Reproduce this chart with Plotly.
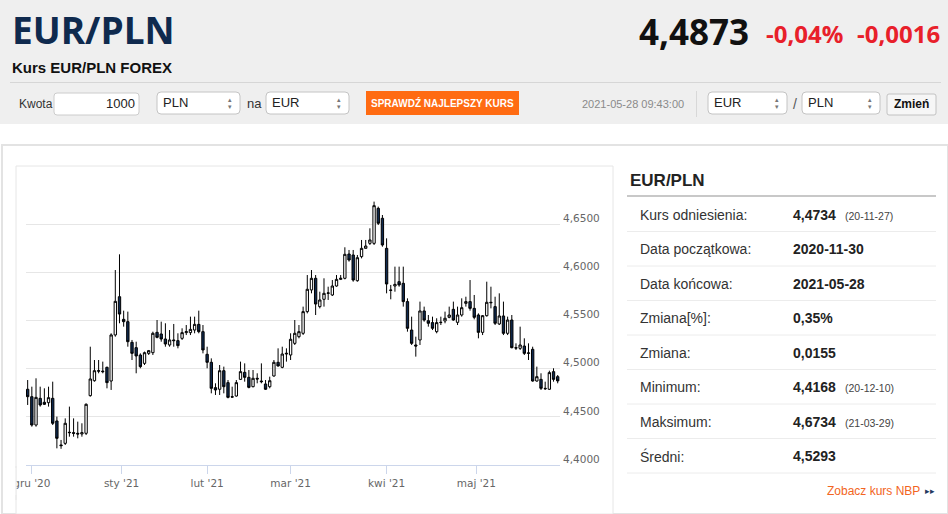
import plotly.graph_objects as go
import pandas as pd

W, H = 948, 514

# trading days (forex, no Dec 25 / Jan 1)
start_date = "2020-11-30"
end_date = "2021-05-28"
holidays = ["2020-12-25", "2021-01-01"]

opens = [4.4786, 4.4709, 4.4415, 4.4692, 4.4651, 4.4647, 4.4692, 4.4457, 4.4208, 4.4225,
         4.4340, 4.4336, 4.4329, 4.4322, 4.4329, 4.4720, 4.4875, 4.4979, 4.4975, 4.5014,
         4.4872, 4.5350, 4.5747, 4.5512, 4.5488, 4.5273, 4.5218, 4.5142, 4.5055, 4.5159,
         4.5166, 4.5377, 4.5360, 4.5308, 4.5246, 4.5298, 4.5291, 4.5315, 4.5374, 4.5374,
         4.5401, 4.5460, 4.5384, 4.5149, 4.5066, 4.4803, 4.4786, 4.4979, 4.4855, 4.4709,
         4.4716, 4.4889, 4.4962, 4.4910, 4.4813, 4.4900, 4.4872, 4.4841, 4.4813, 4.4924,
         4.5066, 4.5014, 4.5152, 4.5142, 4.5263, 4.5332, 4.5367, 4.5592, 4.5817, 4.5938,
         4.5644, 4.5720, 4.5782, 4.5765, 4.5858, 4.5927, 4.5938, 4.6190, 4.6180, 4.5913,
         4.6163, 4.6249, 4.6301, 4.6301, 4.6664, 4.6561, 4.6249, 4.5817, 4.5858, 4.5903,
         4.5886, 4.5696, 4.5401, 4.5246, 4.5298, 4.5599, 4.5498, 4.5478, 4.5384, 4.5478,
         4.5495, 4.5533, 4.5616, 4.5481, 4.5557, 4.5678, 4.5696, 4.5626, 4.5557, 4.5377,
         4.5550, 4.5689, 4.5644, 4.5464, 4.5547, 4.5367, 4.5505, 4.5218, 4.5211, 4.5235,
         4.5159, 4.5201, 4.4872, 4.4889, 4.4796, 4.4786, 4.4969, 4.4917]
highs = [4.4882, 4.4813, 4.4900, 4.4813, 4.4796, 4.4813, 4.4865, 4.4502, 4.4260, 4.4484,
         4.4606, 4.4484, 4.4450, 4.4433, 4.4640, 4.5228, 4.5090, 4.5090, 4.5073, 4.5021,
         4.5367, 4.6024, 4.6187, 4.5602, 4.5592, 4.5298, 4.5280, 4.5159, 4.5177, 4.5194,
         4.5384, 4.5505, 4.5488, 4.5471, 4.5401, 4.5464, 4.5367, 4.5419, 4.5453, 4.5540,
         4.5540, 4.5602, 4.5453, 4.5228, 4.5107, 4.4848, 4.5038, 4.5021, 4.4882, 4.4813,
         4.4882, 4.5073, 4.5055, 4.4986, 4.4986, 4.4952, 4.5055, 4.4882, 4.4917, 4.5090,
         4.5211, 4.5228, 4.5211, 4.5367, 4.5505, 4.5453, 4.5644, 4.5972, 4.6024, 4.5972,
         4.5799, 4.5938, 4.5851, 4.5920, 4.5972, 4.5972, 4.6260, 4.6232, 4.6232, 4.6180,
         4.6336, 4.6336, 4.6457, 4.6734, 4.6682, 4.6595, 4.6353, 4.5869, 4.6059, 4.6059,
         4.6059, 4.5730, 4.5540, 4.5332, 4.5696, 4.5644, 4.5557, 4.5540, 4.5523, 4.5540,
         4.5592, 4.5644, 4.5696, 4.5644, 4.5730, 4.5747, 4.5920, 4.5765, 4.5574, 4.5557,
         4.5903, 4.5851, 4.5747, 4.5782, 4.5696, 4.5540, 4.5557, 4.5263, 4.5436, 4.5315,
         4.5263, 4.5228, 4.5021, 4.4952, 4.4865, 4.4979, 4.5004, 4.4934]
lows = [4.4623, 4.4398, 4.4398, 4.4606, 4.4623, 4.4606, 4.4415, 4.4173, 4.4168, 4.4208,
        4.4294, 4.4294, 4.4277, 4.4294, 4.4311, 4.4709, 4.4865, 4.4952, 4.4952, 4.4796,
        4.4779, 4.5332, 4.5471, 4.5436, 4.5228, 4.5090, 4.4952, 4.5004, 4.5038, 4.5142,
        4.5142, 4.5315, 4.5280, 4.5228, 4.5228, 4.5228, 4.5211, 4.5298, 4.5349, 4.5349,
        4.5367, 4.5367, 4.5159, 4.5004, 4.4744, 4.4727, 4.4727, 4.4744, 4.4692, 4.4702,
        4.4709, 4.4882, 4.4865, 4.4796, 4.4806, 4.4848, 4.4848, 4.4779, 4.4796, 4.4917,
        4.5021, 4.5004, 4.5073, 4.5090, 4.5246, 4.5315, 4.5350, 4.5574, 4.5782, 4.5557,
        4.5626, 4.5644, 4.5713, 4.5754, 4.5851, 4.5920, 4.5927, 4.6111, 4.5903, 4.5903,
        4.6145, 4.6249, 4.6284, 4.6284, 4.6491, 4.6266, 4.5782, 4.5720, 4.5799, 4.5851,
        4.5644, 4.5384, 4.5246, 4.5125, 4.5246, 4.5488, 4.5436, 4.5401, 4.5367, 4.5453,
        4.5471, 4.5523, 4.5498, 4.5453, 4.5540, 4.5644, 4.5602, 4.5512, 4.5315, 4.5349,
        4.5540, 4.5626, 4.5453, 4.5453, 4.5349, 4.5349, 4.5211, 4.5194, 4.5194, 4.5142,
        4.5090, 4.4865, 4.4865, 4.4779, 4.4779, 4.4779, 4.4865, 4.4848]
closes = [4.4709, 4.4415, 4.4702, 4.4623, 4.4630, 4.4699, 4.4433, 4.4277, 4.4201, 4.4433,
          4.4336, 4.4329, 4.4322, 4.4336, 4.4630, 4.4893, 4.4979, 4.4975, 4.4969, 4.4855,
          4.5350, 4.5699, 4.5567, 4.5488, 4.5280, 4.5159, 4.5132, 4.5021, 4.5166, 4.5187,
          4.5367, 4.5325, 4.5308, 4.5256, 4.5298, 4.5291, 4.5239, 4.5374, 4.5384, 4.5408,
          4.5460, 4.5384, 4.5194, 4.5066, 4.4796, 4.4779, 4.4979, 4.4813, 4.4702, 4.4705,
          4.4855, 4.4969, 4.4910, 4.4806, 4.4900, 4.4893, 4.4865, 4.4786, 4.4875, 4.5066,
          4.5028, 4.5152, 4.5159, 4.5305, 4.5367, 4.5384, 4.5592, 4.5824, 4.5938, 4.5671,
          4.5713, 4.5782, 4.5786, 4.5858, 4.5927, 4.5938, 4.6187, 4.6128, 4.5920, 4.6152,
          4.6249, 4.6273, 4.6336, 4.6692, 4.6509, 4.6284, 4.5879, 4.5813, 4.5875, 4.5869,
          4.5696, 4.5419, 4.5263, 4.5235, 4.5599, 4.5505, 4.5471, 4.5419, 4.5478, 4.5481,
          4.5523, 4.5557, 4.5505, 4.5557, 4.5633, 4.5696, 4.5626, 4.5533, 4.5377, 4.5550,
          4.5689, 4.5685, 4.5471, 4.5547, 4.5367, 4.5505, 4.5218, 4.5214, 4.5246, 4.5159,
          4.5163, 4.4872, 4.4917, 4.4796, 4.4792, 4.4959, 4.4889, 4.4873]

month_starts = ["2020-12-01", "2021-01-01", "2021-02-01", "2021-03-01", "2021-04-01", "2021-05-01"]
month_labels = ["gru '20", "sty '21", "lut '21", "mar '21", "kwi '21", "maj '21"]

price_ticks = [4.40, 4.45, 4.50, 4.55, 4.60, 4.65, 4.70]
price_labels = ["4,4000", "4,4500", "4,5000", "4,5500", "4,6000", "4,6500", ""]

row_labels = ["Kurs odniesienia:", "Data początkowa:", "Data końcowa:", "Zmiana[%]:",
              "Zmiana:", "Minimum:", "Maksimum:", "Średni:"]
row_values = ["4,4734", "2020-11-30", "2021-05-28", "0,35%", "0,0155", "4,4168", "4,6734", "4,5293"]
row_notes = ["(20-11-27)", "", "", "", "", "(20-12-10)", "(21-03-29)", ""]

dates = [d.strftime("%Y-%m-%d") for d in pd.bdate_range(start_date, end_date)]
dates = [d for d in dates if d not in holidays]

# month ticks sit on the first session, or between sessions when the 1st is closed
tick_pos = []
for m in month_starts:
    i = next(k for k, d in enumerate(dates) if d >= m)
    tick_pos.append(i if dates[i] == m else i - 0.5)


def X(px):
    return px / W


def Y(py):
    return 1 - py / H


shapes = []
annotations = []
SANS = "Liberation Sans"
OPEN = "Open Sans"


def rect(x0, y0, x1, y1, fill, line="rgba(0,0,0,0)", lw=0, layer="below"):
    shapes.append(dict(type="rect", xref="paper", yref="paper", x0=X(x0), x1=X(x1), y0=Y(y1), y1=Y(y0),
                       fillcolor=fill, line=dict(color=line, width=lw), layer=layer))


def rrect(x0, y0, x1, y1, fill, line, r=4):
    # rounded box as a path, corners drawn with quadratic curves
    p = (f"M {X(x0 + r)} {Y(y0)} L {X(x1 - r)} {Y(y0)} Q {X(x1)} {Y(y0)} {X(x1)} {Y(y0 + r)} "
         f"L {X(x1)} {Y(y1 - r)} Q {X(x1)} {Y(y1)} {X(x1 - r)} {Y(y1)} "
         f"L {X(x0 + r)} {Y(y1)} Q {X(x0)} {Y(y1)} {X(x0)} {Y(y1 - r)} "
         f"L {X(x0)} {Y(y0 + r)} Q {X(x0)} {Y(y0)} {X(x0 + r)} {Y(y0)} Z")
    shapes.append(dict(type="path", xref="paper", yref="paper", path=p, fillcolor=fill,
                       line=dict(color=line, width=1), layer="below"))


def line(x0, y0, x1, y1, color, lw=1, layer="below"):
    shapes.append(dict(type="line", xref="paper", yref="paper", x0=X(x0), x1=X(x1), y0=Y(y0), y1=Y(y1),
                       line=dict(color=color, width=lw), layer=layer))


def text(x, y, s, size, color="#333333", family=SANS, anchor="left"):
    annotations.append(dict(xref="paper", yref="paper", x=X(x), y=Y(y), text=s, showarrow=False,
                            xanchor=anchor, yanchor="middle", font=dict(size=size, color=color, family=family)))


def select(x0, x1, label):
    rrect(x0, 92, x1, 114, "#ffffff", "#c4c4c4")
    text(x0 + 4, 103, label, 13, "#222222")
    text(x1 - 10, 99.5, "▴", 7, "#777777", anchor="center")
    text(x1 - 10, 106.5, "▾", 7, "#777777", anchor="center")


# header
rect(0, 0, W, 124, "#efefef")
line(10, 82.5, 941, 82.5, "#d6d6d6")
text(10, 29, "<b>EUR/PLN</b>", 37, "#0f2a4e", OPEN)
text(751, 31, "<b>4,4873</b>", 35, "#111111", OPEN, anchor="right")
text(845, 34, "<b>-0,04%</b>", 24, "#e8202a", OPEN, anchor="right")
text(942, 34, "<b>-0,0016</b>", 24, "#e8202a", OPEN, anchor="right")
text(10, 67.5, "<b>Kurs EUR/PLN FOREX</b>", 15, "#111111")

# converter row
text(17, 104, "Kwota", 12, "#333333")
rrect(54, 93, 139, 115, "#ffffff", "#cccccc", 3)
text(137, 104, "1000", 13, "#222222", anchor="right")
select(157, 240, "PLN")
text(245, 104, "na", 13, "#333333")
select(266, 349, "EUR")
rect(366, 91, 519, 115, "#ff6b12")
text(442.5, 103, "<b>SPRAWDŹ NAJLEPSZY KURS</b>", 10, "#ffffff", anchor="center")
text(686, 104, "2021-05-28 09:43:00", 11, "#8a8a8a", anchor="right")
line(696.5, 91, 696.5, 117, "#d8d8d8")
select(708, 787, "EUR")
text(795, 104, "/", 14, "#555555", anchor="center")
select(802, 880, "PLN")
rrect(887, 94, 936, 115, "#f6f6f6", "#c2c2c2", 2)
text(911.5, 104.5, "<b>Zmień</b>", 12, "#111111", anchor="center")

# content panel and chart box
rect(2, 145, W, H, "#ffffff", "#e3e3e3", 2)
rect(16, 166, 613, H, "#ffffff", "#e6e6e6", 1)
rect(3, 468, 16.5, 495, "#ffffff", layer="above")
line(16, 466, 16, 500, "#e6e6e6", layer="above")

# side table
text(628, 180, "<b>EUR/PLN</b>", 17, "#222222")
line(627, 196, 936, 196, "#c8c8c8", 2)
for k, (lab, val, note) in enumerate(zip(row_labels, row_values, row_notes)):
    yc = 214.5 + k * 34.5
    text(638, yc, lab, 14, "#333333")
    text(791, yc, "<b>" + val + "</b>", 14, "#222222")
    if note:
        text(843, yc + 1, note, 10.5, "#444444")
    line(627, yc + 17, 936, yc + 17, "#ececec")
text(922, 491, "Zobacz kurs NBP", 12, "#f26522", anchor="right")
text(930, 491, "▸▸", 9, "#1f3a60", anchor="center")

fig = go.Figure()
fig.add_trace(go.Candlestick(
    x=dates, open=opens, high=highs, low=lows, close=closes,
    increasing=dict(fillcolor="#ffffff", line=dict(color="#000000", width=1)),
    decreasing=dict(fillcolor="#0f2a50", line=dict(color="#000000", width=1)),
    whiskerwidth=0, hoverinfo="skip", showlegend=False,
))

fig.update_layout(
    width=W, height=H, margin=dict(l=0, r=0, t=0, b=0, autoexpand=False),
    paper_bgcolor="#ffffff", plot_bgcolor="#ffffff", showlegend=False,
    font=dict(family="DejaVu Sans", size=11, color="#666666"),
    shapes=shapes, annotations=annotations, boxgap=0.2,
)
fig.update_xaxes(
    type="category", domain=[X(26), X(560)], range=[-0.4, len(dates) - 0.45],
    rangeslider_visible=False, showgrid=False, zeroline=False, automargin=False,
    showline=True, linecolor="#ccd6eb", linewidth=1,
    ticks="outside", ticklen=8, tickcolor="#ccd6eb", tickwidth=1,
    tickvals=tick_pos, ticktext=month_labels, tickangle=0,
    tickfont=dict(size=10.5, color="#666666"), fixedrange=True,
)
fig.update_yaxes(
    side="right", domain=[Y(465), Y(176)], range=[4.40, 4.70],
    tickvals=price_ticks, ticktext=price_labels, automargin=False,
    showgrid=True, gridcolor="#e6e6e6", gridwidth=1, zeroline=False, showline=False,
    ticks="", ticklabelshift=-6, ticklabelstandoff=2,
    tickfont=dict(size=10.5, color="#666666"), fixedrange=True,
)

# no body margin and no scrollbars, so the 948x514 figure fills the window exactly
page_fix = ("document.documentElement.style.overflow='hidden';"
            "document.body.style.margin='0';document.body.style.overflow='hidden';")
fig.write_html("out.html", config={"displayModeBar": False}, post_script=page_fix)
